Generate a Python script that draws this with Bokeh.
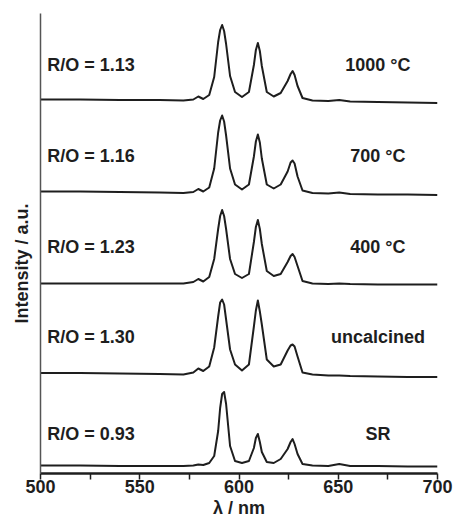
from bokeh.plotting import figure
from bokeh.models import Range1d, FixedTicker, Label, ColumnDataSource, Title
from bokeh.embed import file_html
from bokeh.resources import INLINE

# ---------------- data ----------------
wavelength = [500, 520, 540, 560, 572, 577, 579.5, 582, 585, 587.5, 589.5, 590.5, 591.5, 592.5,
              593.5, 595.5, 598, 601.5, 605, 607.5, 608.5, 609.5, 610.5, 611.5, 614, 617.5, 621,
              624.5, 626, 627, 628, 629.5, 632, 637, 645, 650.5, 656, 670, 685, 700]

int_1000C = [1.5, 1.5, 1, 1, 0.5, 1.5, 4.5, 2, 6, 24, 59, 71, 76, 70, 57, 25, 9, 4, 9, 36, 51, 58,
             50, 35, 9, 4.5, 8, 20, 27, 30, 26, 15, 3, 0.5, 0, 1, -0.5, -1, -1.5, -2]
int_700C = [2, 2, 1.5, 1, 0.5, 1.5, 4.5, 2, 6, 25, 61, 73, 78, 72, 58, 25, 9, 4, 9, 37, 52, 59,
            51, 35, 9, 5, 9, 22, 31, 33, 30, 17, 3, 0.5, 0, 1, -0.5, -1, -1, -1.5]
int_400C = [0.5, 0.5, 0.5, 0.5, 0.5, 2, 5, 2.5, 7, 25, 55, 68, 74, 68, 55, 25, 10, 6, 10, 42, 57,
            64, 55, 40, 13, 8, 10, 22, 28, 30, 27, 18, 3, 0.5, 0, 0.5, 0, -0.5, -0.5, -0.5]
int_uncalcined = [1.5, 1.5, 1, 0.5, 0, 2, 6, 3.5, 8, 27, 58, 72, 75, 70, 55, 25, 10, 4, 10, 48,
                  64, 74, 63, 50, 15, 8, 10, 24, 29, 30, 28, 18, 2, 0, -1, -1, -1.5, -2, -2.5, -2.5]
int_SR = [0.5, 0.5, 0, 0, 0, 0.5, 1.5, 1, 3, 10, 35, 58, 72, 74, 62, 20, 5, 3, 5, 18, 28, 32,
          24, 14, 4, 3, 7, 17, 24, 27, 22, 12, 2, 0.5, 0, 2, 0, 0, -0.5, -0.5]

series = [int_1000C, int_700C, int_400C, int_uncalcined, int_SR]
offsets = [372.5, 280, 189.5, 99, 7.5]
ratio_labels = ["R/O = 1.13", "R/O = 1.16", "R/O = 1.23", "R/O = 1.30", "R/O = 0.93"]
sample_labels = ["1000 \u00b0C", "700 \u00b0C", "400 \u00b0C", "uncalcined", "SR"]
x_ticks = [500, 550, 600, 650, 700]
x_minor_ticks = [525, 575, 625, 675]

# ---------------- figure ----------------
FONT = "Liberation Sans"
INK = "#1e1e1e"

p = figure(width=457, height=524, output_backend="svg", toolbar_location=None,
           x_range=Range1d(500, 700), y_range=Range1d(0, 460),
           min_border_left=40, min_border_right=20, min_border_top=13, min_border_bottom=51)
p.outline_line_color = None
p.xgrid.grid_line_color = None
p.ygrid.grid_line_color = None
p.background_fill_color = "white"

xa = p.xaxis[0]
xa.ticker = FixedTicker(ticks=x_ticks, minor_ticks=x_minor_ticks)
xa.axis_line_width = 2.5
xa.axis_line_color = INK
xa.major_tick_in = 0
xa.major_tick_out = 6
xa.minor_tick_in = 0
xa.minor_tick_out = 6
xa.major_tick_line_width = 1.5
xa.minor_tick_line_width = 1.5
xa.major_tick_line_color = INK
xa.minor_tick_line_color = INK
xa.major_label_text_font = FONT
xa.major_label_text_font_style = "bold"
xa.major_label_text_font_size = "18px"
xa.major_label_text_color = INK
xa.major_label_standoff = 0
xa.axis_label = "\u03bb / nm"
xa.axis_label_text_font = FONT
xa.axis_label_text_font_style = "bold"
xa.axis_label_text_font_size = "18px"
xa.axis_label_text_color = INK
xa.axis_label_standoff = 2

ya = p.yaxis[0]
ya.ticker = FixedTicker(ticks=[])
ya.axis_line_width = 1.5
ya.axis_line_color = "#555555"
ya.major_tick_line_color = None
ya.minor_tick_line_color = None
ya.major_label_text_font_size = "0px"

p.add_layout(Title(text="Intensity / a.u.", align="left", offset=150, standoff=17,
                   text_font=FONT, text_font_style="bold", text_font_size="18px",
                   text_color=INK), "left")

for vals, off in zip(series, offsets):
    src = ColumnDataSource(dict(x=wavelength, y=[v + off for v in vals]))
    p.line("x", "y", source=src, line_color=INK, line_width=2, line_join="round")

label_dy = [36, 38, 37, 38, 32]
for rl, sl, off, dy in zip(ratio_labels, sample_labels, offsets, label_dy):
    p.add_layout(Label(x=503.4, y=off + dy, text=rl, text_align="left", text_baseline="middle",
                       text_font=FONT, text_font_style="bold", text_font_size="18px",
                       text_color=INK))
    p.add_layout(Label(x=670, y=off + dy, text=sl, text_align="center", text_baseline="middle",
                       text_font=FONT, text_font_style="bold", text_font_size="18px",
                       text_color=INK))

open("out.html", "w").write(file_html(p, INLINE))
